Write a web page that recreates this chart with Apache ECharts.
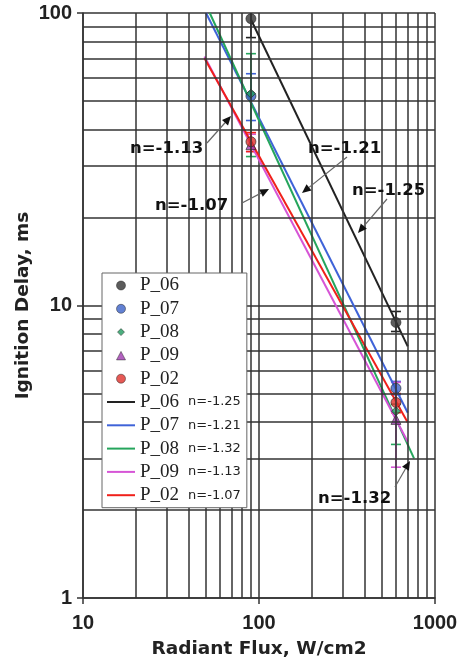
<!DOCTYPE html>
<html>
<head>
<meta charset="utf-8">
<script src="https://cdn.jsdelivr.net/npm/echarts@6/dist/echarts.min.js"></script>
<style>
html, body { margin: 0; padding: 0; background: #fff; }
#chart { width: 463px; height: 664px; }
</style>
</head>
<body>
<div id="chart"></div>
<script>
// series names, styling lookups
var names = ['P_06', 'P_07', 'P_08', 'P_09', 'P_02'];
var slopes = ['n=-1.25', 'n=-1.21', 'n=-1.32', 'n=-1.13', 'n=-1.07'];
var dotColors = ['#333333', '#3b62c8', '#1e9a5e', '#a03ab0', '#e0302a'];
var lineColors = ['#222222', '#3f63d8', '#25a55c', '#d655d6', '#f0201a'];
var symbols = ['circle', 'circle', 'diamond', 'triangle', 'circle'];

// measured points [flux, delay]
var points = [
    [[90, 95.6], [600, 8.75]],
    [[90, 52.0], [600, 5.21]],
    [[90, 53.0], [600, 4.35]],
    [[90, 35.5], [600, 4.08]],
    [[90, 36.3], [600, 4.66]]
];
// error bars [flux, low, high]
var errBars = [
    [[90, 82.4, 110], [600, 8.15, 9.54]],
    [[90, 42.9, 62.0], [600, 4.95, 5.5]],
    [[90, 32.3, 72.6], [600, 3.35, 4.6]],
    [[90, 33.6, 38.5], [600, 2.80, 5.46]],
    [[90, 33.6, 39.0], [600, 4.3, 5.0]]
];
// power-law fit lines, end points
var fits = [
    [[90, 95], [700, 7.25]],
    [[50, 100], [700, 4.3]],
    [[52.5, 100], [760, 3.0]],
    [[49, 71], [700, 3.42]],
    [[49, 70], [700, 3.98]]
];

var xMinor = [20, 30, 40, 50, 60, 70, 80, 90, 200, 300, 400, 500, 600, 700, 800, 900];
var yMinor = [2, 3, 4, 5, 6, 7, 8, 9, 20, 30, 40, 50, 60, 70, 80, 90];

var gridColor = '#333';
var sans = '"Liberation Sans", Arial, sans-serif';
var wide = '"DejaVu Sans", Verdana, sans-serif';

// legend icons sized inside a 28x9 box so they are not stretched
var legendIcons = {
    circle: 'circle',
    diamond: 'path://M0,0M28,9M10.5,4.5L14,1L17.5,4.5L14,8Z',
    triangle: 'path://M0,0M28,9M9.5,9L14,0.5L18.5,9Z'
};

function arrow(x1, y1, x2, y2) {
    var dx = x2 - x1, dy = y2 - y1;
    var len = Math.sqrt(dx * dx + dy * dy);
    var ux = dx / len, uy = dy / len;
    var hl = 9, hw = 4;
    var bx = x2 - ux * hl, by = y2 - uy * hl;
    return [{
        type: 'line', z: 20,
        shape: { x1: x1, y1: y1, x2: bx, y2: by },
        style: { stroke: '#666', lineWidth: 1.2 }
    }, {
        type: 'polygon', z: 20,
        shape: { points: [[x2, y2], [bx - uy * hw, by + ux * hw], [bx + uy * hw, by - ux * hw]] },
        style: { fill: '#111' }
    }];
}

function label(text, x, y) {
    return {
        type: 'text', z: 20, x: x, y: y,
        style: {
            text: text, fill: '#111',
            font: 'bold 16.5px ' + wide,
            textVerticalAlign: 'middle'
        }
    };
}

var graphics = [
    label('n=-1.13', 130, 149),
    label('n=-1.21', 308, 149),
    label('n=-1.25', 352, 191),
    label('n=-1.07', 155, 206),
    label('n=-1.32', 318, 499)
]
    .concat(arrow(207, 143, 231, 116))
    .concat(arrow(347, 157, 302, 193))
    .concat(arrow(387, 199, 358, 233))
    .concat(arrow(242, 203, 269, 189))
    .concat(arrow(395, 487, 410, 461));

var series = [];

// minor log grid drawn as mark lines through the axes
var gridMarks = [];
for (var i in xMinor) gridMarks.push({ xAxis: xMinor[i] });
for (var j in yMinor) gridMarks.push({ yAxis: yMinor[j] });
series.push({
    type: 'line', name: 'grid', data: [], z: 1, silent: true,
    markLine: {
        silent: true, symbol: ['none', 'none'], animation: false,
        label: { show: false },
        lineStyle: { color: gridColor, width: 1.5, type: 'solid' },
        emphasis: { disabled: true },
        data: gridMarks
    }
});

names.forEach(function (n, k) {
    series.push({
        type: 'custom', name: n + ' err', z: 2, silent: true, clip: true,
        data: errBars[k],
        renderItem: function (params, api) {
            var lo = api.coord([api.value(0), api.value(1)]);
            var hi = api.coord([api.value(0), api.value(2)]);
            var st = { stroke: lineColors[k], lineWidth: 1.6 };
            return {
                type: 'group',
                children: [
                    { type: 'line', shape: { x1: lo[0], y1: lo[1], x2: hi[0], y2: hi[1] }, style: st },
                    { type: 'line', shape: { x1: lo[0] - 5, y1: lo[1], x2: lo[0] + 5, y2: lo[1] }, style: st },
                    { type: 'line', shape: { x1: hi[0] - 5, y1: hi[1], x2: hi[0] + 5, y2: hi[1] }, style: st }
                ]
            };
        }
    });
});

names.forEach(function (n, k) {
    series.push({
        type: 'line', name: n + ' fit', z: 3, data: fits[k],
        symbol: 'none', color: lineColors[k],
        lineStyle: { width: 2, color: lineColors[k] },
        silent: true, animation: false
    });
});

names.forEach(function (n, k) {
    series.push({
        type: 'scatter', name: n, z: 4, data: points[k],
        symbol: symbols[k], symbolSize: symbols[k] === 'diamond' ? 9 : 10,
        symbolKeepAspect: true,
        color: dotColors[k],
        itemStyle: { color: dotColors[k], borderColor: '#222', borderWidth: 0.8 },
        silent: true, animation: false
    });
});

var legendData = [];
names.forEach(function (n, k) {
    legendData.push({
        name: n, icon: legendIcons[symbols[k]],
        itemStyle: { color: dotColors[k], borderColor: '#222', borderWidth: 0.6 }
    });
});
names.forEach(function (n) { legendData.push({ name: n + ' fit', itemStyle: { opacity: 0 } }); });

var option = {
    animation: false,
    backgroundColor: '#fff',
    grid: { left: 83, right: 28, top: 13, bottom: 65 },
    legend: {
        orient: 'vertical', left: 102, top: 273, z: 10,
        data: legendData,
        backgroundColor: '#fff', borderColor: '#666', borderWidth: 1,
        padding: [3, 6, 3, 4],
        itemWidth: 28, itemHeight: 9, itemGap: 4.3,
        symbolKeepAspect: true,
        selectedMode: false,
        textStyle: {
            fontFamily: '"Liberation Serif", "Times New Roman", serif',
            fontSize: 19, lineHeight: 19, color: '#222',
            rich: {
                n: {
                    fontFamily: wide,
                    fontSize: 13, color: '#222', padding: [0, 0, 0, 9]
                }
            }
        },
        formatter: function (name) {
            var base = name.replace(' fit', '');
            if (name.indexOf(' fit') < 0) return base;
            return base + '{n|' + slopes[names.indexOf(base)] + '}';
        }
    },
    xAxis: {
        type: 'log', logBase: 10, min: 10, max: 1000,
        name: 'Radiant Flux, W/cm2', nameLocation: 'middle', nameGap: 42,
        nameMoveOverlap: false,
        nameTextStyle: { fontFamily: wide, fontWeight: 'bold', fontSize: 18.5, color: '#222' },
        axisLine: { lineStyle: { color: gridColor, width: 1.5 } },
        axisTick: { show: true, length: 6, lineStyle: { color: gridColor, width: 1.5 } },
        axisLabel: {
            margin: 15, fontFamily: sans, fontWeight: 'bold', fontSize: 20, color: '#222',
            formatter: function (v) { return '' + v; }
        },
        splitLine: { show: true, lineStyle: { color: gridColor, width: 1.5 } }
    },
    yAxis: {
        type: 'log', logBase: 10, min: 1, max: 100,
        name: 'Ignition Delay, ms', nameLocation: 'middle', nameGap: 50,
        nameMoveOverlap: false,
        nameTextStyle: { fontFamily: wide, fontWeight: 'bold', fontSize: 18.5, color: '#222' },
        axisLine: { show: true, lineStyle: { color: gridColor, width: 1.5 } },
        axisTick: { show: true, length: 6, lineStyle: { color: gridColor, width: 1.5 } },
        axisLabel: {
            margin: 11, fontFamily: sans, fontWeight: 'bold', fontSize: 20, color: '#222',
            formatter: function (v) { return '' + v; }
        },
        splitLine: { show: true, lineStyle: { color: gridColor, width: 1.5 } }
    },
    graphic: graphics,
    series: series
};

var chart = echarts.init(document.getElementById('chart'));
chart.setOption(option);
</script>
</body>
</html>
